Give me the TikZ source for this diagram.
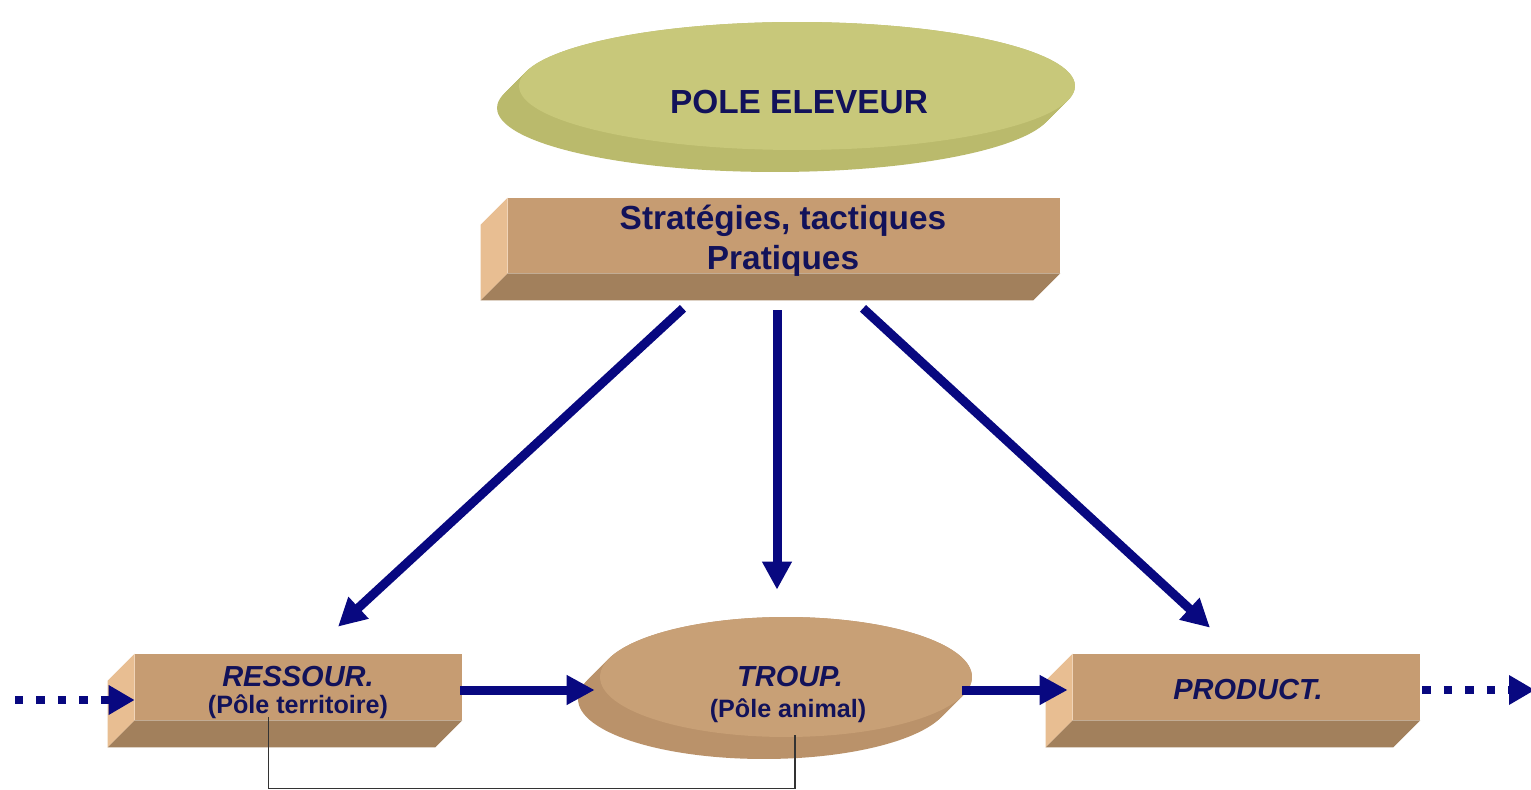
\documentclass[tikz,border=0pt]{standalone}
\usepackage{fontspec}
\setmainfont{Liberation Sans}
\usetikzlibrary{calc,arrows.meta,shapes.geometric}
\definecolor{navytext}{RGB}{18,18,90}
\definecolor{navyarrow}{RGB}{8,8,128}
\definecolor{olivetop}{RGB}{200,200,122}
\definecolor{oliveside}{RGB}{186,186,108}
\definecolor{tantop}{RGB}{200,160,118}
\definecolor{tanside}{RGB}{186,146,106}
\definecolor{boxfront}{RGB}{198,156,114}
\definecolor{boxleftc}{RGB}{232,190,146}
\definecolor{boxbottomc}{RGB}{162,128,92}
\newcommand\boxsides[1]{%
  \fill[boxleftc] (#1.north west) -- ++(-27,27) -- ($(#1.south west)+(-27,27)$) -- (#1.south west) -- cycle;
  \fill[boxbottomc] (#1.south west) -- ++(-27,27) -- ($(#1.south east)+(-27,27)$) -- (#1.south east) -- cycle;}
\begin{document}
\begin{tikzpicture}[x=0.02cm,y=-0.02cm,
  front/.style={rectangle, fill=boxfront, inner sep=0pt},
  disc/.style={ellipse, inner sep=0pt},
  lbl/.style={text=navytext, anchor=base, inner sep=0pt},
  bigtxt/.style={font=\bfseries\fontsize{19}{19}\selectfont},
  itatxt/.style={font=\bfseries\itshape\fontsize{16.5}{16.5}\selectfont},
  subtxt/.style={font=\bfseries\fontsize{14.3}{14.3}\selectfont},
  arr/.style={draw=navyarrow, line width=0.18cm, -{Triangle[length=0.56cm,width=0.56cm]}},
  dotarr/.style={draw=navyarrow, line width=0.17cm, dash pattern=on 0.17cm off 0.26cm, -{Triangle[length=0.52cm,width=0.56cm]}},
  link/.style={draw=black!80, line width=0.6pt}]
\useasboundingbox (0,0) rectangle (1531,790);
\fill[white] (0,0) rectangle (1531,790);

% POLE ELEVEUR disc
\foreach \t in {0,2,...,22} \fill[oliveside] (797-\t,86+\t) ellipse [x radius=5.56cm, y radius=1.28cm];
\node[disc, fill=olivetop, minimum width=11.12cm, minimum height=2.56cm] (pole) at (797,86) {};

% TROUP disc
\foreach \t in {0,2,...,22} \fill[tanside] (786-\t,677+\t) ellipse [x radius=3.72cm, y radius=1.2cm];
\node[disc, fill=tantop, minimum width=7.44cm, minimum height=2.4cm] (troup) at (786,677) {};

% boxes
\node[front, minimum width=11.04cm, minimum height=1.5cm] (strat) at (784,235.5) {};
\boxsides{strat}
\node[front, minimum width=6.54cm, minimum height=1.32cm] (res) at (298.5,687) {};
\boxsides{res}
\node[front, minimum width=6.94cm, minimum height=1.32cm] (prod) at (1246.5,687) {};
\boxsides{prod}

% texts
\node[lbl, bigtxt] (poletxt) at (799,114) {POLE ELEVEUR};
\node[lbl, bigtxt] (strat1) at (783,230) {Stratégies, tactiques};
\node[lbl, bigtxt] (strat2) at (783,270) {Pratiques};
\node[lbl, itatxt] (restxt) at (298,686) {RESSOUR.};
\node[lbl, subtxt] (ressub) at (298,713) {(Pôle territoire)};
\node[lbl, itatxt] (trouptxt) at (790,686) {TROUP.};
\node[lbl, subtxt] (troupsub) at (788,717) {(Pôle animal)};
\node[lbl, itatxt] (prodtxt) at (1248,699) {PRODUCT.};

% link line
\draw[link] ($(res.south)+(-30,-3)$) -- ++(0,71) -| ($(troup.south)+(9,-2)$);

% arrows
\draw[arr] ($(strat.south)+(-101,35)$) -- ($(res.north)+(39.5,-27)$);
\draw[arr] ($(strat.south)+(-7,37)$) -- ($(troup.north)+(-9,-27)$);
\draw[arr] ($(strat.south)+(79,35)$) -- ($(prod.north)+(-36.5,-26)$);
\draw[arr] ($(res.east)+(-2,3)$) -- ($(troup.west)+(-5,13)$);
\draw[arr] ($(troup.east)+(-10,13)$) -- ($(prod.west)+(-5,3)$);

\coordinate (inL) at (15,700);
\coordinate (outR) at (1535,690);
\draw[dotarr] (inL) -- ($(res.west)+(0,13)$);
\draw[dotarr] ($(prod.east)+(2,3)$) -- (outR);
\end{tikzpicture}
\end{document}
